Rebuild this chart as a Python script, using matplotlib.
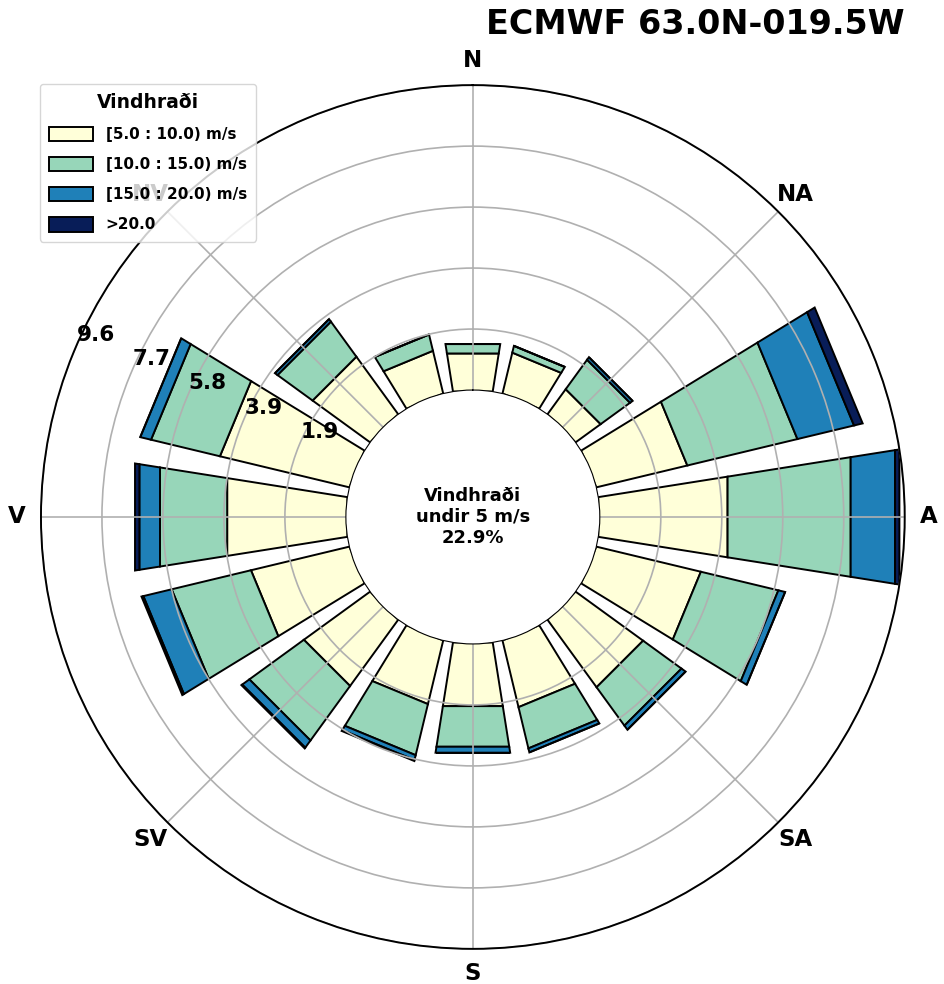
import numpy as np
import matplotlib.pyplot as plt

# wind direction sectors (degrees, clockwise from north)
directions = np.arange(0, 360, 22.5)
compass_labels = ['N', 'NA', 'A', 'SA', 'S', 'SV', 'V', 'NV']
speed_bins = ['[5.0 : 10.0) m/s', '[10.0 : 15.0) m/s', '[15.0 : 20.0) m/s', '>20.0']

# frequency (%) per sector for each speed bin
freq_5_10 = [1.22, 1.33, 0.98, 2.96, 4.14, 3.40, 2.64, 2.17,
             2.04, 2.07, 2.59, 3.20, 3.85, 4.21, 2.25, 1.39]
freq_10_15 = [0.30, 0.22, 1.15, 3.58, 3.94, 2.52, 1.50, 1.34,
              1.30, 1.66, 2.13, 2.58, 2.15, 2.24, 1.37, 0.53]
freq_15_20 = [0.00, 0.00, 0.10, 1.84, 1.42, 0.22, 0.16, 0.13,
              0.19, 0.16, 0.28, 0.92, 0.66, 0.35, 0.10, 0.00]
freq_20 = [0.00, 0.00, 0.00, 0.28, 0.14, 0.00, 0.00, 0.00,
           0.00, 0.03, 0.03, 0.06, 0.14, 0.00, 0.00, 0.00]
calm_pct = 22.9
station = 'ECMWF 63.0N-019.5W'

fig = plt.figure(figsize=(9.44, 9.84), dpi=100)
ax = fig.add_axes([0.0434, 0.0356, 0.915, 0.878], projection='polar')
ax.set_theta_zero_location('N')
ax.set_theta_direction(-1)

colors = plt.cm.YlGnBu(np.linspace(0, 1, 4))
theta = np.deg2rad(directions)
width = np.deg2rad(22.5 * 0.8)
bottom = np.zeros(len(directions))
for vals, col, lab in zip([freq_5_10, freq_10_15, freq_15_20, freq_20], colors, speed_bins):
    bars = ax.bar(theta, vals, width=width, bottom=bottom, color=col,
                  edgecolor='black', linewidth=1.4, label=lab)
    # straight segment ends, windrose style
    for b in bars:
        b.get_path()._interpolation_steps = 1
    bottom += np.array(vals)

rmax = bottom.max()
ax.set_ylim(0, rmax)
ax.set_rorigin(-rmax * 0.4164)
ticks = np.linspace(0, rmax, 6)[1:]
ax.set_rgrids(ticks, labels=[f'{t:.1f}' for t in ticks], angle=293.5,
              fontsize=15.5, fontweight='bold')
ax.set_thetagrids(np.arange(0, 360, 45), labels=compass_labels,
                  fontsize=16.5, fontweight='bold')
ax.tick_params(axis='x', pad=7)
ax.grid(color='#b0b0b0', linewidth=1.2)
ax.spines['polar'].set_linewidth(1.4)

ax.text(0.5, 0.5, f'Vindhraði\nundir 5 m/s\n{calm_pct}%', transform=ax.transAxes,
        ha='center', va='center', fontsize=13, fontweight='bold')

ax.legend(loc='upper left', bbox_to_anchor=(0.0424, 0.9146),
          bbox_transform=fig.transFigure, borderaxespad=0,
          title='Vindhraði', title_fontproperties={'weight': 'bold', 'size': 13.5},
          prop={'weight': 'bold', 'size': 11}, handlelength=2.9,
          handleheight=1.1, labelspacing=0.95, borderpad=0.6)

fig.text(0.9587, 0.9746, station, ha='right', va='center',
         fontsize=24, fontweight='bold')

fig.savefig('out.png', dpi=100)
